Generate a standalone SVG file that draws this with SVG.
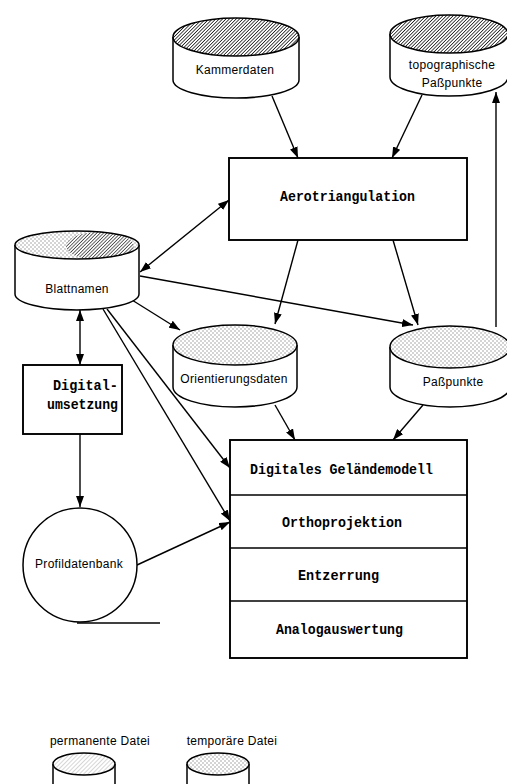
<svg xmlns="http://www.w3.org/2000/svg" width="507" height="784" viewBox="0 0 507 784">
<style>
.ln{stroke:#000;stroke-width:1.4;fill:none}
.ar{marker-end:url(#ah)}
.bi{marker-start:url(#ah);marker-end:url(#ah)}
.body{fill:#fff;stroke:#000;stroke-width:1.5}
.box{fill:#fff;stroke:#000;stroke-width:1.9}
.sep{stroke:#000;stroke-width:1.6}
.lbl{font-family:"Liberation Sans",Arial,sans-serif;font-size:12px;letter-spacing:0.3px;fill:#000;text-anchor:middle}
.mono{font-family:"Liberation Mono","DejaVu Sans Mono",monospace;font-weight:bold;font-size:14.5px;fill:#000}
</style>
<defs>
<marker id="ah" markerUnits="userSpaceOnUse" markerWidth="11" markerHeight="8" refX="11" refY="4" orient="auto-start-reverse">
<path d="M0,0 L11,4 L0,8 z" fill="#000"/>
</marker>
<pattern id="hatch" width="2.4" height="2.4" patternUnits="userSpaceOnUse" patternTransform="rotate(45)">
<rect width="2.4" height="2.4" fill="#fff"/>
<line x1="0" y1="0" x2="0" y2="2.4" stroke="#111" stroke-width="1.5"/>
</pattern>
<pattern id="hatchL" width="3" height="3" patternUnits="userSpaceOnUse" patternTransform="rotate(45)">
<rect width="3" height="3" fill="#fff"/>
<line x1="0" y1="0" x2="0" y2="3" stroke="#999" stroke-width="0.8"/>
</pattern>
<pattern id="stip" width="4" height="4" patternUnits="userSpaceOnUse">
<rect width="4" height="4" fill="#fff"/>
<rect x="0.5" y="0.5" width="1" height="1" fill="#555"/>
<rect x="2.5" y="2.5" width="1" height="1" fill="#555"/>
</pattern>
<clipPath id="blClip"><ellipse cx="77" cy="245" rx="62" ry="14"/></clipPath>
</defs>

<g id="connectors">
<path class="ln ar" d="M272,96 L298,158"/>
<path class="ln ar" d="M422,95 L392,158"/>
<path class="ln bi" d="M140,272 L229,200"/>
<path class="ln ar" d="M298,240 L275,324"/>
<path class="ln ar" d="M393,240 L418,325"/>
<path class="ln ar" d="M140,276 L413,325"/>
<path class="ln ar" d="M132,300 L180,330"/>
<path class="ln ar" d="M275,405 L295,440"/>
<path class="ln ar" d="M423,405 L393,440"/>
<path class="ln ar" d="M496,327 L496,92"/>
<path class="ln bi" d="M80,310 L80,365"/>
<path class="ln ar" d="M80,434 L80,507"/>
<path class="ln ar" d="M137,565 L230,522"/>
<path class="ln ar" d="M107,309 L230,468"/>
<path class="ln ar" d="M103,309 L230,521"/>
<path class="ln" d="M77,623 L160,623"/>
</g>

<g id="kammerdaten">
<path class="body" d="M173,37 L173,80 A63,18 0 0 0 299,80 L299,37"/>
<ellipse cx="236" cy="37" rx="63" ry="19" fill="url(#hatch)" stroke="#000" stroke-width="1.5"/>
<text class="lbl" x="235" y="74">Kammerdaten</text>
</g>

<g id="topographische">
<path class="body" d="M390,34 L390,77 A59,19 0 0 0 508,77 L508,34"/>
<ellipse cx="449" cy="34" rx="59" ry="19" fill="url(#hatch)" stroke="#000" stroke-width="1.5"/>
<text class="lbl" x="452" y="69">topographische</text>
<text class="lbl" x="452" y="87">Paßpunkte</text>
</g>

<g id="aerotriangulation">
<rect class="box" x="229" y="158" width="238" height="82"/>
<text class="mono" x="280" y="201" textLength="135" lengthAdjust="spacingAndGlyphs">Aerotriangulation</text>
</g>

<g id="blattnamen">
<path class="body" d="M15,245 L15,294 A62,16 0 0 0 139,294 L139,245"/>
<ellipse cx="77" cy="245" rx="62" ry="14" fill="url(#stip)"/>
<ellipse cx="100" cy="246" rx="34" ry="14" fill="url(#hatch)" clip-path="url(#blClip)" opacity="0.8"/>
<ellipse cx="77" cy="245" rx="62" ry="14" fill="none" stroke="#000" stroke-width="1.5"/>
<text class="lbl" x="77" y="293">Blattnamen</text>
</g>

<g id="orientierungsdaten">
<path class="body" d="M173,345 L173,387 A62,20 0 0 0 297,387 L297,345"/>
<ellipse cx="235" cy="345" rx="62" ry="20" fill="url(#stip)" stroke="#000" stroke-width="1.5"/>
<text class="lbl" x="234" y="383">Orientierungsdaten</text>
</g>

<g id="passpunkte">
<path class="body" d="M390,347 L390,387 A60,20 0 0 0 510,387 L510,347"/>
<ellipse cx="450" cy="347" rx="60" ry="21" fill="url(#stip)" stroke="#000" stroke-width="1.5"/>
<text class="lbl" x="453" y="386">Paßpunkte</text>
</g>

<g id="digitalumsetzung">
<rect class="box" x="23" y="365" width="99" height="69"/>
<text class="mono" x="53" y="390" textLength="65" lengthAdjust="spacingAndGlyphs">Digital-</text>
<text class="mono" x="47" y="409" textLength="71" lengthAdjust="spacingAndGlyphs">umsetzung</text>
</g>

<g id="profildatenbank">
<circle cx="80" cy="565" r="57" fill="#fff" stroke="#000" stroke-width="1.5"/>
<text class="lbl" x="79" y="568">Profildatenbank</text>
</g>

<g id="stack">
<rect class="box" x="230" y="440" width="237" height="218"/>
<line class="sep" x1="230" y1="495" x2="467" y2="495"/>
<line class="sep" x1="230" y1="548" x2="467" y2="548"/>
<line class="sep" x1="230" y1="601" x2="467" y2="601"/>
<text class="mono" x="250" y="474" textLength="183" lengthAdjust="spacingAndGlyphs">Digitales Geländemodell</text>
<text class="mono" x="282" y="527" textLength="120" lengthAdjust="spacingAndGlyphs">Orthoprojektion</text>
<text class="mono" x="298" y="580" textLength="81" lengthAdjust="spacingAndGlyphs">Entzerrung</text>
<text class="mono" x="276" y="634" textLength="127" lengthAdjust="spacingAndGlyphs">Analogauswertung</text>
</g>

<g id="legend">
<text class="lbl" x="100" y="745">permanente Datei</text>
<text class="lbl" x="232" y="745">temporäre Datei</text>
<path class="body" d="M53,764 L53,790 M115,764 L115,790"/>
<ellipse cx="84" cy="764" rx="31" ry="11" fill="url(#hatchL)" stroke="#000" stroke-width="1.5"/>
<path class="body" d="M187,764 L187,790 M249,764 L249,790"/>
<ellipse cx="218" cy="764" rx="31" ry="11" fill="url(#stip)" stroke="#000" stroke-width="1.5"/>
</g>
</svg>
